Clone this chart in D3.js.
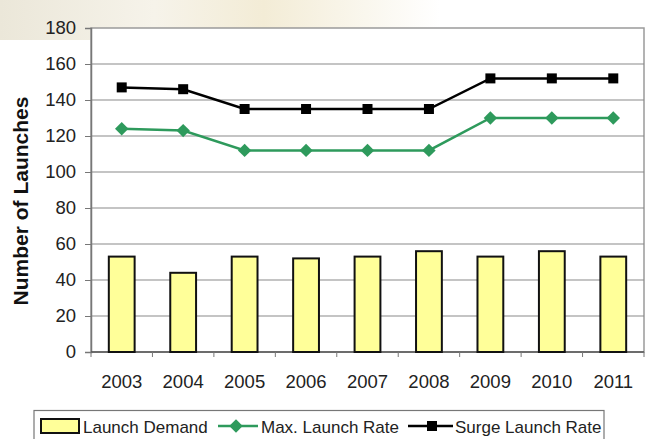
<!DOCTYPE html>
<html>
<head>
<meta charset="utf-8">
<script src="https://cdn.jsdelivr.net/npm/d3@7"></script>
<style>
  body { margin: 0; background: #fff; }
  svg { display: block; font-family: Arial, "Liberation Sans", sans-serif; }
</style>
</head>
<body>
<svg id="chart"></svg>
<script>
// Data
const years = ["2003", "2004", "2005", "2006", "2007", "2008", "2009", "2010", "2011"];
const launchDemand = [53, 44, 53, 52, 53, 56, 53, 56, 53];
const maxLaunchRate = [124, 123, 112, 112, 112, 112, 130, 130, 130];
const surgeLaunchRate = [147, 146, 135, 135, 135, 135, 152, 152, 152];
const yTicks = [0, 20, 40, 60, 80, 100, 120, 140, 160, 180];

const width = 653, height = 439;
const margin = {top: 28, right: 9, bottom: 87, left: 91};
const chartWidth = width - margin.left - margin.right;
const chartHeight = height - margin.top - margin.bottom;
const green = "#2e9a5c";

const svg = d3.select("#chart")
  .attr("width", width)
  .attr("height", height);

// faint beige wash behind the top of the chart
const defs = svg.append("defs");
const grad = defs.append("linearGradient").attr("id", "wash");
grad.append("stop").attr("offset", "0%").attr("stop-color", "#ebe7d9");
grad.append("stop").attr("offset", "35%").attr("stop-color", "#f6f3ea");
grad.append("stop").attr("offset", "60%").attr("stop-color", "#f3ecd6");
grad.append("stop").attr("offset", "100%").attr("stop-color", "#ffffff");
svg.append("rect")
  .attr("x", 0).attr("y", 0)
  .attr("width", 440).attr("height", 40)
  .attr("fill", "url(#wash)");

const xScale = d3.scaleBand()
  .domain(years)
  .range([0, chartWidth]);

const yScale = d3.scaleLinear()
  .domain([0, 180])
  .range([chartHeight, 0]);

const g = svg.append("g")
  .attr("transform", `translate(${margin.left}, ${margin.top})`);

// plot area
g.append("rect")
  .attr("width", chartWidth)
  .attr("height", chartHeight)
  .attr("fill", "#fff")
  .attr("stroke", "#9a9a9a")
  .attr("stroke-width", 1.5);

// gridlines
g.append("g")
  .selectAll("line")
  .data(yTicks.slice(1, -1))
  .join("line")
  .attr("x1", 0)
  .attr("x2", chartWidth)
  .attr("y1", d => yScale(d))
  .attr("y2", d => yScale(d))
  .attr("stroke", "#8a8a8a")
  .attr("stroke-width", 1.2);

// y axis
const yAxis = g.append("g")
  .call(d3.axisLeft(yScale).tickValues(yTicks).tickSize(6).tickPadding(9));
yAxis.select(".domain").attr("stroke", "#777").attr("stroke-width", 1.5);
yAxis.selectAll(".tick line").attr("stroke", "#777");
yAxis.selectAll("text")
  .attr("font-size", 18.5)
  .attr("fill", "#222")
  .attr("font-family", "Arial, 'Liberation Sans', sans-serif");

// x axis: ticks at category boundaries
const xAxisG = g.append("g")
  .attr("transform", `translate(0, ${chartHeight})`);
xAxisG.append("line")
  .attr("x1", 0).attr("x2", chartWidth)
  .attr("stroke", "#555").attr("stroke-width", 1.5);
xAxisG.selectAll("line.tk")
  .data(years.map((d, i) => i).concat([years.length]))
  .join("line")
  .attr("class", "tk")
  .attr("x1", i => i * xScale.step())
  .attr("x2", i => i * xScale.step())
  .attr("y1", 0).attr("y2", 5)
  .attr("stroke", "#777");
xAxisG.selectAll("text")
  .data(years)
  .join("text")
  .attr("x", d => xScale(d) + xScale.bandwidth() / 2)
  .attr("y", 36)
  .attr("text-anchor", "middle")
  .attr("font-size", 18.5)
  .attr("fill", "#222")
  .text(d => d);

// bars
const barW = xScale.bandwidth() * 0.42;
g.append("g")
  .selectAll("rect")
  .data(launchDemand)
  .join("rect")
  .attr("x", (d, i) => xScale(years[i]) + (xScale.bandwidth() - barW) / 2)
  .attr("y", d => yScale(d))
  .attr("width", barW)
  .attr("height", d => chartHeight - yScale(d))
  .attr("fill", "#ffff99")
  .attr("stroke", "#111")
  .attr("stroke-width", 2);

const cx = d => xScale(d) + xScale.bandwidth() / 2;
const line = d3.line()
  .x((d, i) => cx(years[i]))
  .y(d => yScale(d));
const diamond = d3.symbol(d3.symbolSquare, 90);

// Max launch rate line
g.append("path")
  .datum(maxLaunchRate)
  .attr("d", line)
  .attr("fill", "none")
  .attr("stroke", green)
  .attr("stroke-width", 2.5);
g.append("g")
  .selectAll("path")
  .data(maxLaunchRate)
  .join("path")
  .attr("d", diamond)
  .attr("transform", (d, i) => `translate(${cx(years[i])}, ${yScale(d)}) rotate(45)`)
  .attr("fill", green);

// Surge launch rate line
g.append("path")
  .datum(surgeLaunchRate)
  .attr("d", line)
  .attr("fill", "none")
  .attr("stroke", "#000")
  .attr("stroke-width", 2.5);
g.append("g")
  .selectAll("rect")
  .data(surgeLaunchRate)
  .join("rect")
  .attr("x", (d, i) => cx(years[i]) - 5)
  .attr("y", d => yScale(d) - 5)
  .attr("width", 10)
  .attr("height", 10)
  .attr("fill", "#000");

// y axis title
svg.append("text")
  .attr("transform", "translate(28, 201) rotate(-90)")
  .attr("text-anchor", "middle")
  .attr("font-size", 21)
  .attr("font-weight", "bold")
  .attr("fill", "#111")
  .text("Number of Launches");

// legend
const legend = svg.append("g");
legend.append("rect")
  .attr("x", 34).attr("y", 410.5)
  .attr("width", 570).attr("height", 40)
  .attr("fill", "#fff")
  .attr("stroke", "#777")
  .attr("stroke-width", 1.2);

legend.append("rect")
  .attr("x", 41).attr("y", 419)
  .attr("width", 38).attr("height", 14)
  .attr("fill", "#ffff99")
  .attr("stroke", "#111")
  .attr("stroke-width", 2);
legend.append("text")
  .attr("x", 83).attr("y", 433)
  .attr("font-size", 17).attr("fill", "#222")
  .text("Launch Demand");

legend.append("line")
  .attr("x1", 218).attr("x2", 258)
  .attr("y1", 426).attr("y2", 426)
  .attr("stroke", green).attr("stroke-width", 2.5);
legend.append("path")
  .attr("d", diamond)
  .attr("transform", "translate(236, 426) rotate(45)")
  .attr("fill", green);
legend.append("text")
  .attr("x", 261).attr("y", 433)
  .attr("font-size", 17).attr("fill", "#222")
  .text("Max. Launch Rate");

legend.append("line")
  .attr("x1", 408).attr("x2", 453)
  .attr("y1", 426).attr("y2", 426)
  .attr("stroke", "#000").attr("stroke-width", 2.5);
legend.append("rect")
  .attr("x", 427).attr("y", 421)
  .attr("width", 10).attr("height", 10)
  .attr("fill", "#000");
legend.append("text")
  .attr("x", 455).attr("y", 433)
  .attr("font-size", 17).attr("fill", "#222")
  .text("Surge Launch Rate");
</script>
</body>
</html>
